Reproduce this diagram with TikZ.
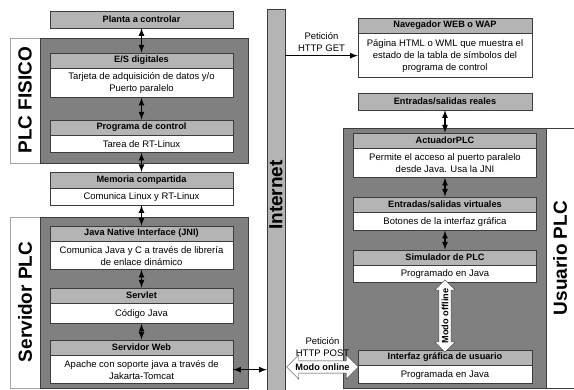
\documentclass[tikz,border=0pt]{standalone}
\usepackage{fontspec}
\setmainfont{Liberation Sans}
\usepackage{tikz}
\usetikzlibrary{positioning,arrows,shapes.arrows}
\definecolor{colorpanel}{RGB}{128,128,128}
\definecolor{colorhead}{RGB}{180,180,180}
\definecolor{colorframe}{RGB}{165,165,165}
\definecolor{colorline}{RGB}{60,60,60}

\begin{document}
\begin{tikzpicture}[
    x=1pt, y=-1pt,
    node distance = 0pt,
    font={\fontsize{9.5}{12}\selectfont},
    head/.style={draw=colorline,fill=colorhead,font={\fontsize{9.2}{10}\selectfont\bfseries},inner sep=0pt,minimum width=183pt,minimum height=15.5pt},
    body/.style={draw=colorline,fill=white,inner sep=0pt,align=center,minimum width=183pt,minimum height=#1},
    body/.default=18pt,
    narrow/.style={minimum width=174pt},
    side/.style={rotate=90,font={\fontsize{19}{19}\selectfont\bfseries}},
    link/.style={<->,>=latex,line width=1.6pt},
    hollow/.style={double arrow,draw=colorline,fill=white,font={\fontsize{9.2}{10}\selectfont\bfseries},inner sep=2.5pt},
]
    \useasboundingbox (0,0) rectangle (574,389);

    % Panels
    \filldraw[draw=colorframe,fill=white] (10,38) rectangle (248,163);
    \filldraw[draw=colorline,fill=colorpanel] (40,38) rectangle (248,163);
    \filldraw[draw=colorframe,fill=white] (10,217) rectangle (248,388);
    \filldraw[draw=colorline,fill=colorpanel] (40,217) rectangle (248,388);
    \filldraw[draw=colorline,fill=white] (343,128) rectangle (580,388);
    \filldraw[draw=colorline,fill=colorpanel] (343,128) rectangle (546,388);

    \node[draw=colorline,fill=colorhead,minimum width=18pt,minimum height=382pt,inner sep=0pt] (internet) at (276,200) {};

    % Left blocks
    \node[head, minimum height=17pt] (planta) at (141.5,19.5) {Planta a controlar};
    \node[head] (esHead) at (141.5,60.5) {E/S digitales};
    \node[body=29pt, below=of esHead] (esBody) {Tarjeta de adquisición de datos y/o\\Puerto paralelo};
    \node[head] (progHead) at (141.5,127.5) {Programa de control};
    \node[body=17pt, below=of progHead] (progBody) {Tarea de RT-Linux};
    \node[head] (memHead) at (141.5,180) {Memoria compartida};
    \node[body=17pt, below=of memHead] (memBody) {Comunica Linux y RT-Linux};
    \node[head] (jniHead) at (141.5,233.5) {Java Native Interface (JNI)};
    \node[body=28pt, below=of jniHead] (jniBody) {Comunica Java y C a través de librería\\de enlace dinámico};
    \node[head] (servletHead) at (141.5,295.5) {Servlet};
    \node[body=20pt, below=of servletHead] (servletBody) {Código Java};
    \node[head] (webHead) at (141.5,347.5) {Servidor Web};
    \node[body=28pt, below=of webHead] (webBody) {Apache con soporte java a través de\\Jakarta-Tomcat};

    % Right blocks
    \node[head, narrow] (navHead) at (445,25.5) {Navegador WEB o WAP};
    \node[body=44pt, narrow, below=of navHead] (navBody) {Página HTML o WML que muestra el\\estado de la tabla de símbolos del\\programa de control};
    \node[head, narrow, minimum height=17pt] (realHead) at (445,101.5) {Entradas/salidas reales};
    \node[head] (actHead) at (445,140.5) {ActuadorPLC};
    \node[body=29pt, below=of actHead] (actBody) {Permite el acceso al puerto paralelo\\desde Java. Usa la JNI};
    \node[head] (virtHead) at (445,204.5) {Entradas/salidas virtuales};
    \node[body=18pt, below=of virtHead] (virtBody) {Botones de la interfaz gráfica};
    \node[head] (simHead) at (445,257.5) {Simulador de PLC};
    \node[body=17pt, below=of simHead] (simBody) {Programado en Java};
    \node[head, narrow] (guiHead) at (445,357.5) {Interfaz gráfica de usuario};
    \node[body=18pt, narrow, below=of guiHead] (guiBody) {Programada en Java};

    % Side labels
    \node[side] (plcLabel) at (25,100) {PLC FISICO};
    \node[side] (srvLabel) at (25,302) {Servidor PLC};
    \node[side] (usrLabel) at (560,258) {Usuario PLC};
    \node[side] (netLabel) at (276,195) {Internet};

    % Hollow arrows
    \node[hollow, minimum height=71pt, double arrow head extend=6pt] (online) at (322.5,367) {Modo online};
    \node[above=1pt of online, align=center] (post) {Petición\\HTTP POST};
    \node[hollow, rotate=90, minimum height=68pt, double arrow head extend=4pt] (offline) at (445,316) {Modo offline};

    % Relations
    \draw[link] (planta) -- (esHead);
    \draw[link] (esBody) -- (progHead);
    \draw[link] (progBody) -- (memHead);
    \draw[link] (memBody) -- (jniHead);
    \draw[link] (jniBody) -- (servletHead);
    \draw[link] (servletBody) -- (webHead);
    \draw[link] (webBody.east) -- (webBody.east -| internet.west);

    \draw[link] (realHead) -- (actHead);
    \draw[link] (actBody) -- (virtHead);
    \draw[link] (virtBody) -- (simHead);

    \draw[->,>=latex,line width=1.6pt] (navBody.west -| internet.east) -- (navBody.west) node [midway,above,align=center] {Petición\\HTTP GET};

\end{tikzpicture}
\end{document}
